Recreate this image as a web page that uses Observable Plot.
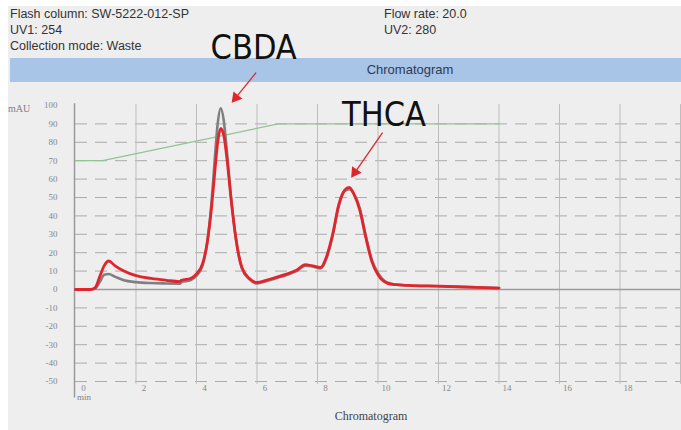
<!DOCTYPE html>
<html><head><meta charset="utf-8">
<script src="https://cdn.jsdelivr.net/npm/d3@7"></script>
<script src="https://cdn.jsdelivr.net/npm/@observablehq/plot@0.6"></script>
<style>
body{margin:0;background:#fff;}
#wrap{position:relative;width:681px;height:430px;overflow:hidden;}
#panel{position:absolute;left:8px;top:6px;right:0;bottom:0;background:#eeeeee;}
.hd{position:absolute;font-family:"Liberation Sans",Arial,sans-serif;font-size:12.5px;color:#333;white-space:nowrap;line-height:12px;}
#band{position:absolute;left:10px;top:58px;width:671px;height:24px;background:#a8c4e6;}
#bandtxt{position:absolute;top:63px;left:0;width:820px;text-align:center;font-family:"Liberation Sans",Arial,sans-serif;font-size:13px;line-height:14px;color:#2c3b57;}
.ser{position:absolute;font-family:"Liberation Serif",serif;color:#808080;white-space:nowrap;line-height:1;}
#chart{position:absolute;left:0;top:0;}
</style></head><body>
<div id="wrap">
  <div id="panel"></div>
  <div id="band"></div>
  <div id="bandtxt">Chromatogram</div>
  <div class="hd" style="left:10px;top:8px">Flash column: SW-5222-012-SP</div>
  <div class="hd" style="left:10px;top:24px">UV1: 254</div>
  <div class="hd" style="left:10px;top:40px">Collection mode: Waste</div>
  <div class="hd" style="left:384px;top:8px">Flow rate: 20.0</div>
  <div class="hd" style="left:384px;top:24px">UV2: 280</div>
  <div class="ser" style="left:8px;top:104px;font-size:10px">mAU</div>
  <div class="ser" style="left:77px;top:393px;font-size:9px">min</div>
  <div class="ser" style="left:0;width:742px;text-align:center;top:410px;font-size:12px;color:#444">Chromatogram</div>
  <div id="chart"></div>
</div>
<script>
// ---- data ----
const times      = [0, 0.5, 0.65, 0.8, 0.95, 1.1, 1.3, 1.6, 2.0, 2.5, 3.0, 3.45, 3.5, 3.8, 4.0, 4.2, 4.35, 4.5, 4.6, 4.7, 4.8, 4.9, 5.0, 5.15, 5.3, 5.5, 5.75, 6.0, 6.3, 6.6, 7.0, 7.3, 7.6, 7.8, 8.1, 8.3, 8.5, 8.7, 8.9, 9.05, 9.2, 9.4, 9.6, 9.8, 10.0, 10.3, 10.6, 11, 12, 13, 14];
const redValues  = [0, 0, 1, 7, 13, 15.5, 13, 10, 7.5, 6, 5, 4.3, 5, 6, 8.5, 14, 25, 45, 63, 80, 87.5, 84, 72, 48, 28, 12, 6, 3.8, 5, 6.5, 8.5, 10.5, 13.5, 13, 12, 18, 30, 46, 54, 55.5, 52, 43, 28, 15, 8, 3.5, 2.6, 2.2, 1.8, 1.3, 0.8];
const greyValues = [0, 0, 0.5, 4, 8, 8.4, 7, 5, 4, 3.5, 3.3, 3.2, 4, 5, 7.5, 13, 25, 48, 70, 90, 98.5, 92, 76, 49, 28, 11.5, 5.5, 3.3, 4.5, 6, 8, 10, 13, 12.7, 11.5, 17, 29, 45, 53.5, 54.5, 52, 44, 29, 16, 9, 3.8, 2.6, 2.2, 1.8, 1.3, 0.8];
const gradientTimes  = [0, 0.9, 6.7, 14];
const gradientValues = [70, 70, 90, 90];
const xTicks = [0, 2, 4, 6, 8, 10, 12, 14, 16, 18];
const yTicks = [100, 90, 80, 70, 60, 50, 40, 30, 20, 10, 0, -10, -20, -30, -40, -50];
const gridXValues = [2, 4, 6, 8, 10, 12, 14, 16, 18, 20];
const gridYValues = [90, 80, 70, 60, 50, 40, 30, 20, 10, -10, -20, -30, -40, -50];
const peakLabels = ["CBDA", "THCA"];
const peakLabelX = [5.89, 10.2];
const peakLabelY = [131, 94.6];
const arrowX1 = [5.97, 10.15];
const arrowY1 = [117.9, 85.3];
const arrowX2 = [5.17, 9.12];
const arrowY2 = [101.6, 60.9];

// ---- layout ----
const W = 681, H = 430, mL = 75, mR = 1, mT = 105, mB = 49;
const xDomain = [0, 20], yDomain = [-50, 100];
const kx = (W - mL - mR) / (xDomain[1] - xDomain[0]);
const ky = (H - mT - mB) / (yDomain[1] - yDomain[0]);

const red = times.map((t, i) => ({t, v: redValues[i]}));
const grey = times.map((t, i) => ({t, v: greyValues[i]}));
const gradient = gradientTimes.map((t, i) => ({t, v: gradientValues[i]}));
const arrows = arrowX1.map((x1, i) => {
  const dxp = (arrowX2[i] - x1) * kx, dyp = -(arrowY2[i] - arrowY1[i]) * ky;
  const len = Math.hypot(dxp, dyp), ux = dxp / len, uy = dyp / len;
  const back = 6.3;
  return {
    x1, y1: arrowY1[i],
    hx: arrowX2[i] - back * ux / kx, hy: arrowY2[i] + back * uy / ky,
    rot: Math.atan2(ux, -uy) * 180 / Math.PI
  };
});
const labels = peakLabels.map((s, i) => ({s, x: peakLabelX[i], y: peakLabelY[i]}));

const chart = Plot.plot({
  width: W, height: H,
  marginLeft: mL, marginRight: mR, marginTop: mT, marginBottom: mB,
  style: {background: "transparent", color: "#888", overflow: "visible"},
  x: {domain: xDomain, label: null},
  y: {domain: yDomain, label: null},
  marks: [
    Plot.ruleY(gridYValues, {x1: 0, x2: 20, stroke: "#ababab", strokeWidth: 1, strokeDasharray: "12,8"}),
    Plot.ruleX(gridXValues, {y1: -51.5, y2: 100.5, stroke: "#bdbdbd", strokeWidth: 1}),
    Plot.ruleY([0], {x1: 0, x2: 20, stroke: "#9a9a9a", strokeWidth: 1.5}),
    Plot.ruleX([0], {y1: -59, y2: 101, stroke: "#9a9a9a", strokeWidth: 1.5, dx: -1}),
    Plot.axisY(yTicks, {anchor: "left", tickSize: 0, tickPadding: 18, fontSize: 9, fontFamily: "Liberation Serif", fill: "#888", tickFormat: d => String(d), label: null}),
    Plot.axisX(xTicks, {anchor: "bottom", tickSize: 0, tickPadding: 3, dx: 8, fontSize: 9, fontFamily: "Liberation Serif", fill: "#888", tickFormat: d => String(d), label: null}),
    Plot.line(gradient, {x: "t", y: "v", stroke: "#93c293", strokeWidth: 1.2}),
    Plot.line(grey, {x: "t", y: "v", stroke: "#808080", strokeWidth: 2.6, curve: "monotone-x"}),
    Plot.line(red, {x: "t", y: "v", stroke: "#e0262c", strokeWidth: 2.8, curve: "monotone-x"}),
    Plot.link(arrows, {x1: "x1", y1: "y1", x2: "hx", y2: "hy", stroke: "#e0262c", strokeWidth: 1.3}),
    Plot.dot(arrows, {x: "hx", y: "hy", symbol: "triangle", r: 4.3, rotate: "rot", fill: "#e0262c", stroke: "none"}),
    Plot.text(labels, {x: "x", y: "y", text: "s", fontSize: 34, fontFamily: "'Liberation Sans Narrow', 'DejaVu Sans Condensed', 'Liberation Sans', sans-serif", fill: "#111"})
  ]
});
document.getElementById("chart").appendChild(chart);
</script>
</body></html>
